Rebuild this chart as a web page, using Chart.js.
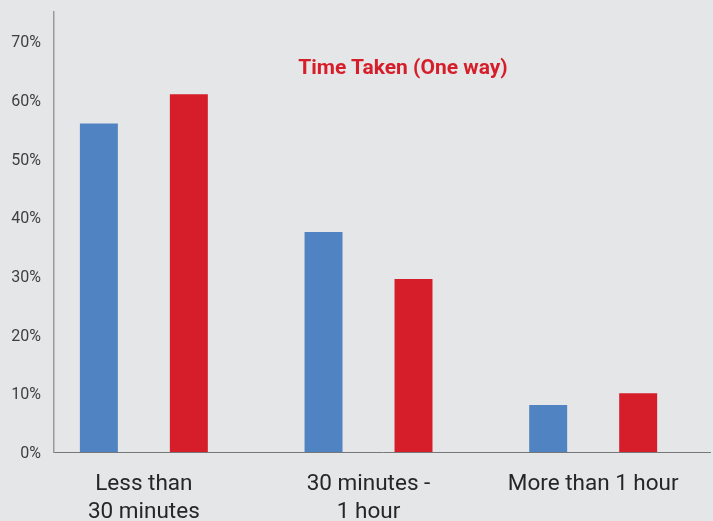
<!DOCTYPE html>
<html>
<head>
<meta charset="utf-8">
<script src="https://cdn.jsdelivr.net/npm/chart.js@4/dist/chart.umd.min.js"></script>
<style>
  html, body { margin: 0; padding: 0; background: #e5e6e8; }
  #wrap { position: relative; width: 713px; height: 521px; background: #e5e6e8; overflow: hidden; }
  #title { position: absolute; left: 403px; top: 67px; transform: translate(-50%, -50%);
    font-family: Roboto, "Noto Sans", sans-serif; font-weight: bold; font-size: 21px;
    color: #d61e2a; white-space: nowrap; line-height: 1; }
</style>
</head>
<body>
<div id="wrap">
  <canvas id="c" width="713" height="521"></canvas>
  <div id="title">Time Taken (One way)</div>
</div>
<script>
// ---- data ----
const categories = [['Less than', '30 minutes'], ['30 minutes -', '1 hour'], ['More than 1 hour']];
const seriesBlue = [56, 37.5, 8];
const seriesRed = [61, 29.5, 10];
const yTickValues = [0, 10, 20, 30, 40, 50, 60, 70];
const seriesNames = ['Series 1', 'Series 2'];

const toPoints = (vals) => vals.map((v, i) => ({ x: i, y: v }));

new Chart(document.getElementById('c'), {
  type: 'bar',
  data: {
    datasets: [
      { label: seriesNames[0], data: toPoints(seriesBlue), backgroundColor: '#5083c1',
        categoryPercentage: 0.801, barPercentage: 0.422 },
      { label: seriesNames[1], data: toPoints(seriesRed), backgroundColor: '#d61e2a',
        categoryPercentage: 0.801, barPercentage: 0.422 }
    ]
  },
  options: {
    responsive: false,
    animation: false,
    layout: { padding: { top: 12, right: 3, left: 0, bottom: 0 } },
    plugins: { legend: { display: false }, tooltip: { enabled: false }, title: { display: false } },
    scales: {
      x: {
        type: 'linear',
        offset: false,
        min: -0.4,
        max: 2.52,
        grid: { display: false, drawTicks: false },
        border: { display: true, color: '#777777', width: 1 },
        ticks: {
          stepSize: 1,
          padding: 18,
          maxRotation: 0,
          autoSkip: false,
          color: '#262626',
          font: { family: 'Roboto', size: 22.5, lineHeight: 28 / 22.5 },
          callback: (v) => categories[v]
        },
        afterBuildTicks: (s) => {
          s.ticks = categories.map((c, i) => ({ value: i }));
        },
        afterFit: (s) => { s.height = 69; s.paddingLeft = 0; s.paddingRight = 0; }
      },
      y: {
        min: 0,
        max: 75,
        grid: { display: false, drawTicks: false },
        border: { display: true, color: '#999999', width: 1.5 },
        ticks: {
          stepSize: 10,
          padding: 13,
          labelOffset: 2,
          color: '#404040',
          font: { family: 'Roboto', size: 16 },
          callback: (v) => v + '%'
        },
        afterBuildTicks: (s) => {
          s.ticks = yTickValues.map((v) => ({ value: v }));
        },
        afterFit: (s) => { s.width = 54; s.paddingTop = 0; s.paddingBottom = 0; }
      }
    }
  }
});
</script>
</body>
</html>
